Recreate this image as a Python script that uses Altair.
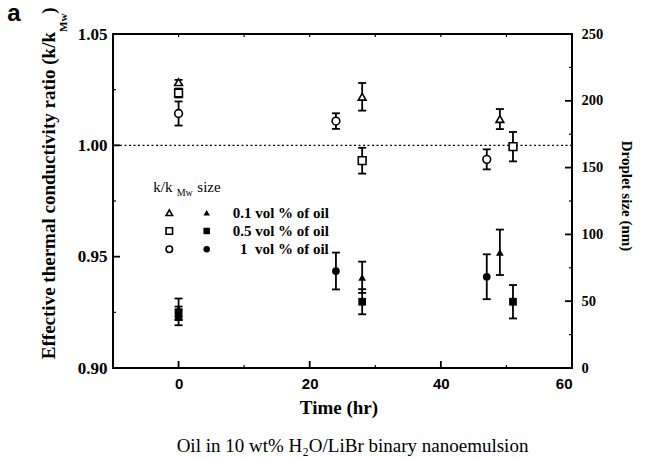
import altair as alt
import pandas as pd

# ---------------- data ----------------
series = ["0.1 vol % of oil", "0.5 vol % of oil", "1 vol % of oil"]
shapes = ["triangle-up", "square", "circle"]

# thermal conductivity ratio (open symbols, left axis)
k_time = [0, 28, 49, 0, 28, 51, 0, 24, 47]
k_series = [series[0]] * 3 + [series[1]] * 3 + [series[2]] * 3
k_ratio = [1.0284, 1.0218, 1.0118, 1.0235, 0.9931, 0.9994, 1.0143, 1.0109, 0.9937]
k_err = [0.0010, 0.0062, 0.0045, 0.0020, 0.0058, 0.0066, 0.0054, 0.0035, 0.0045]

# droplet size (filled symbols, right axis)
d_time = [0, 28, 49, 0, 28, 51, 0, 24, 47]
d_series = [series[0]] * 3 + [series[1]] * 3 + [series[2]] * 3
d_size = [44, 67.9, 86.6, 41, 49.6, 49.6, 38, 72.6, 68.3]
d_err = [8, 11.7, 17, 5, 9.4, 12.5, 6, 13.8, 16.8]

ref_line = [1.0]
x_ticks = [0, 20, 40, 60]
x_minor = [-10, 10, 30, 50]
x_top = [0, 10, 20, 30, 40, 50]
left_major = [0.90, 0.95, 1.00, 1.05]
left_minor = [0.925, 0.975, 1.025]
right_major = [0, 50, 100, 150, 200, 250]
right_minor = [25, 75, 125, 175, 225]

W, H = 459, 334
SERIF = "Liberation Serif"
SANS = "Liberation Sans"

kdf = pd.DataFrame({"t": k_time, "s": k_series, "v": k_ratio,
                    "lo": [v - e for v, e in zip(k_ratio, k_err)],
                    "hi": [v + e for v, e in zip(k_ratio, k_err)]})
ddf = pd.DataFrame({"t": d_time, "s": d_series, "v": d_size,
                    "lo": [v - e for v, e in zip(d_size, d_err)],
                    "hi": [v + e for v, e in zip(d_size, d_err)]})

xs = alt.Scale(domain=[-10, 60], nice=False, zero=False)
ys_k = alt.Scale(domain=[0.90, 1.05], nice=False, zero=False)
ys_d = alt.Scale(domain=[0, 250], nice=False, zero=False)
shape_enc = alt.Shape("s:N", scale=alt.Scale(domain=series, range=shapes), legend=None)

x_axis = alt.Axis(values=x_ticks, format="d", labelFont=SANS, labelFontWeight="bold",
                  labelFontSize=15, labelColor="black", labelPadding=8, ticks=False,
                  tickSize=0, domain=False, grid=False, title=None, orient="bottom")
left_axis = alt.Axis(values=left_major, format=".2f", labelFont=SERIF, labelFontWeight="bold",
                     labelFontSize=17, labelColor="black", labelPadding=6, ticks=False,
                     tickSize=0, domain=False, grid=False, title=None, orient="left")
right_axis = alt.Axis(values=right_major, format="d", labelFont=SERIF, labelFontWeight="bold",
                      labelFontSize=14.5, labelColor="black", labelPadding=9, ticks=False,
                      tickSize=0, domain=False, grid=False, title=None, orient="right")

X = lambda f="t": alt.X(f"{f}:Q", scale=xs, axis=x_axis)
YK = lambda f: alt.Y(f"{f}:Q", scale=ys_k, axis=left_axis)
YD = lambda f: alt.Y(f"{f}:Q", scale=ys_d, axis=right_axis)

LW = 1.8

# ---------- left group (ratio) ----------
bk = alt.Chart(kdf)
k_bars = bk.mark_rule(color="black", strokeWidth=LW).encode(x=X(), y=YK("lo"), y2="hi:Q")
k_cap_lo = bk.mark_rule(color="black", strokeWidth=LW, xOffset=-4, x2Offset=4).encode(
    x=X(), x2=alt.X2("t:Q"), y=YK("lo"))
k_cap_hi = bk.mark_rule(color="black", strokeWidth=LW, xOffset=-4, x2Offset=4).encode(
    x=X(), x2=alt.X2("t:Q"), y=YK("hi"))
k_pts = bk.mark_point(filled=True, fill="white", stroke="black", strokeWidth=1.6,
                      size=60, opacity=1).encode(x=X(), y=YK("v"), shape=shape_enc)

dotted = alt.Chart(pd.DataFrame({"y": ref_line})).mark_rule(
    color="black", strokeWidth=1.3, strokeDash=[2, 2.5]).encode(y=YK("y"))

lmaj = alt.Chart(pd.DataFrame({"y": left_major})).mark_rule(color="black", strokeWidth=LW).encode(
    y=YK("y"), x=alt.value(0), x2=alt.value(7))
lmin = alt.Chart(pd.DataFrame({"y": left_minor})).mark_rule(color="black", strokeWidth=1.2).encode(
    y=YK("y"), x=alt.value(0), x2=alt.value(3))
bmaj = alt.Chart(pd.DataFrame({"x": x_ticks})).mark_rule(color="black", strokeWidth=LW).encode(
    x=X("x"), y=alt.value(H), y2=alt.value(H - 7))
bmin = alt.Chart(pd.DataFrame({"x": x_minor})).mark_rule(color="black", strokeWidth=1.2).encode(
    x=X("x"), y=alt.value(H), y2=alt.value(H - 3))
tmin = alt.Chart(pd.DataFrame({"x": x_top})).mark_rule(color="black", strokeWidth=1.2).encode(
    x=X("x"), y=alt.value(0), y2=alt.value(3))

left = alt.layer(dotted, lmaj, lmin, bmaj, bmin, tmin, k_bars, k_cap_lo, k_cap_hi, k_pts)

# ---------- right group (droplet size) ----------
bd = alt.Chart(ddf)
d_bars = bd.mark_rule(color="black", strokeWidth=LW).encode(x=X(), y=YD("lo"), y2="hi:Q")
d_cap_lo = bd.mark_rule(color="black", strokeWidth=LW, xOffset=-4, x2Offset=4).encode(
    x=X(), x2=alt.X2("t:Q"), y=YD("lo"))
d_cap_hi = bd.mark_rule(color="black", strokeWidth=LW, xOffset=-4, x2Offset=4).encode(
    x=X(), x2=alt.X2("t:Q"), y=YD("hi"))
d_pts = bd.mark_point(filled=True, color="black", size=60, opacity=1).encode(
    x=X(), y=YD("v"), shape=shape_enc)
rmaj = alt.Chart(pd.DataFrame({"y": right_major})).mark_rule(color="black", strokeWidth=LW).encode(
    y=YD("y"), x=alt.value(W), x2=alt.value(W - 7))
rmin = alt.Chart(pd.DataFrame({"y": right_minor})).mark_rule(color="black", strokeWidth=1.2).encode(
    y=YD("y"), x=alt.value(W), x2=alt.value(W - 3))

right = alt.layer(rmaj, rmin, d_bars, d_cap_lo, d_cap_hi, d_pts)


# ---------- text / legend ----------
def txt(text, x, y, **kw):
    return alt.Chart(pd.DataFrame({"label": [text]})).mark_text(color="black", **kw).encode(
        x=alt.value(x), y=alt.value(y), text="label:N")


texts = [
    txt("a", -99, -13, font=SANS, fontWeight="bold", fontSize=24, align="center", baseline="alphabetic"),
    txt("Effective thermal conductivity ratio (k/k", -58, -2, font=SERIF, fontWeight="bold",
        fontSize=19, angle=270, align="right", baseline="alphabetic"),
    txt("Mw", -46, -2, font=SERIF, fontWeight="bold", fontSize=11, angle=270, align="left",
        baseline="alphabetic"),
    txt(")", -58, -20.3, font=SERIF, fontWeight="bold", fontSize=19, angle=270, align="left",
        baseline="alphabetic"),
    txt("Droplet size (nm)", 509, 162, font=SERIF, fontWeight="bold", fontSize=15, angle=90,
        align="center", baseline="alphabetic"),
    txt("Time (hr)", 226, 380, font=SERIF, fontWeight="bold", fontSize=19, align="center",
        baseline="alphabetic"),
    txt("Oil in 10 wt% H₂O/LiBr binary nanoemulsion", 239.5, 417.7, font=SERIF, fontSize=19,
        align="center", baseline="alphabetic"),
    txt("k/k", 40.3, 157.7, font=SERIF, fontSize=15, align="left", baseline="alphabetic"),
    txt("Mw", 63.7, 162, font=SERIF, fontSize=10, align="left", baseline="alphabetic"),
    txt("size", 84.3, 157.7, font=SERIF, fontSize=15, align="left", baseline="alphabetic"),
]

row_y = [178.7, 197.0, 215.3]
row_text_x = [119.7, 119.7, 127.0]
row_labels = ["0.1 vol % of oil", "0.5 vol % of oil", "1\u00a0\u00a0vol % of oil"]
legend_layers = []
for i in range(3):
    one = pd.DataFrame({"s": [series[i]]})
    legend_layers.append(alt.Chart(one).mark_point(
        shape=shapes[i], filled=True, fill="white", stroke="black", strokeWidth=1.6,
        size=42, opacity=1).encode(x=alt.value(56.3), y=alt.value(row_y[i])))
    legend_layers.append(alt.Chart(one).mark_point(
        shape=shapes[i], filled=True, color="black", size=42, opacity=1).encode(
        x=alt.value(93.7), y=alt.value(row_y[i])))
    legend_layers.append(txt(row_labels[i], row_text_x[i], row_y[i], font=SERIF, fontWeight="bold",
                             fontSize=15, align="left", baseline="middle"))

chart = alt.layer(left, right, *texts, *legend_layers).resolve_scale(y="independent").properties(
    width=W, height=H,
    autosize=alt.AutoSizeParams(type="none"),
    padding={"left": 113, "top": 34, "right": 74, "bottom": 90},
    background="white",
).configure_view(stroke="black", strokeWidth=2)

chart.save("out.html", embed_options={"renderer": "svg", "actions": False})
